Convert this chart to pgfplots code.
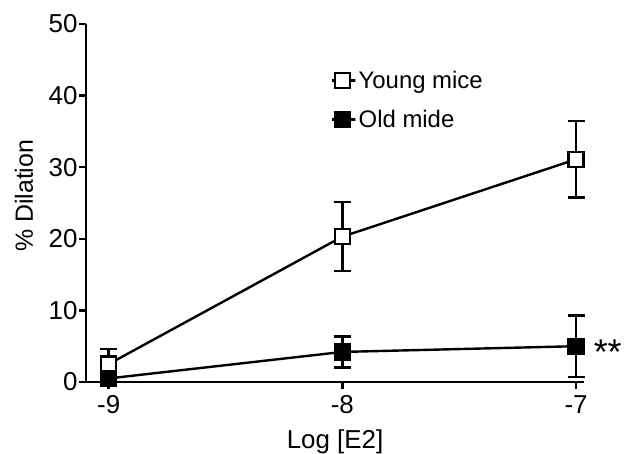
\documentclass[border=0pt]{standalone}
\usepackage{fontspec}
\setmainfont{Liberation Sans}
\usepackage{pgfplots}
\pgfplotsset{compat=1.18}
\newcommand\bigf{\fontsize{26}{31}\selectfont}
\begin{document}
\begin{tikzpicture}
\path[use as bounding box] (-86bp,-72bp) rectangle (539bp,382bp);
\begin{axis}[
  at={(0,0)}, anchor=south west,
  scale only axis, width=498bp, height=358bp,
  xmin=-9.097, xmax=-6.966, ymin=0, ymax=50,
  axis x line=bottom, axis y line=left,
  axis line style={line width=2.4bp, -},
  xtick={-9,-8,-7}, ytick={0,10,20,30,40,50},
  tick style={line width=2.4bp, black},
  tick align=outside, major tick length=7bp,
  xticklabels={-9,-8,-7},
  /pgf/number format/assume math mode=true,
  tick label style={font=\bigf},
  yticklabel style={xshift=2bp},
  xticklabel style={yshift=-3bp},
  xlabel={Log [E2]}, ylabel={\% Dilation},
  xlabel style={font=\bigf, at={(axis description cs:0.5,0)}, anchor=base, yshift=-66bp},
  ylabel style={font=\fontsize{25}{30}\selectfont, at={(axis description cs:0,0.52)}, anchor=base, yshift=53bp},
  clip=false,
  legend style={draw=none, fill=none, at={(0.486,0.88)}, anchor=north west,
    font=\fontsize{24}{29}\selectfont, row sep=16bp},
  legend cell align=left,
  legend image code/.code={
    \path (0,0) rectangle (0.62cm+4bp,0);
    \draw[line width=2.4bp] (0.3cm-10bp,0) -- (0.3cm+10bp,0);
    \draw[#1] plot[only marks] coordinates {(0.3cm,0cm)};},
]
\addplot[black, line width=2.4bp, mark=square*, mark size=7.5bp,
  mark options={fill=white, line width=2.4bp},
  error bars/.cd, y dir=both, y explicit,
  error bar style={line width=2.4bp, black},
  error mark options={rotate=90, mark size=8.5bp, line width=2.4bp}]
  coordinates {(-9,2.5) +- (0,2.1) (-8,20.3) +- (0,4.8) (-7,31.1) +- (0,5.35)};
\addlegendentry{Young mice}
\addplot[black, line width=2.4bp, mark=square*, mark size=7.5bp,
  mark options={fill=black, line width=2.4bp},
  error bars/.cd, y dir=both, y explicit,
  error bar style={line width=2.4bp, black},
  error mark options={rotate=90, mark size=8.5bp, line width=2.4bp}]
  coordinates {(-9,0.5) +- (0,0.3) (-8,4.2) +- (0,2.15) (-7,5.0) +- (0,4.3)};
\addlegendentry{Old mide}
\node[font=\fontsize{36}{40}\selectfont, anchor=west, inner sep=0pt] at (axis cs:-6.925,4.2) {**};
\end{axis}
\end{tikzpicture}
\end{document}
